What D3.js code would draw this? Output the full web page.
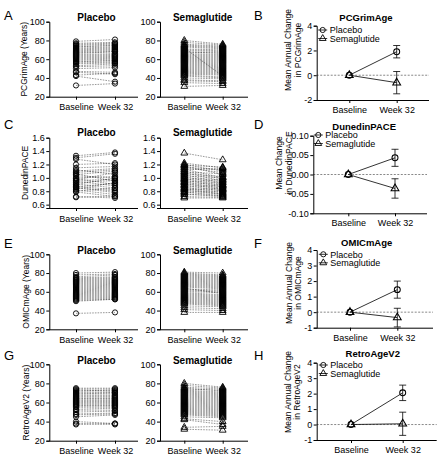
<!DOCTYPE html>
<html>
<head>
<meta charset="utf-8">
<script src="https://cdn.jsdelivr.net/npm/d3@7"></script>
<style>
  body { margin: 0; background: #fff; }
  svg { font-family: "Liberation Sans", Arial, sans-serif; }
</style>
</head>
<body>
<svg id="fig" width="442" height="459"></svg>
<script>
// ---------- data ----------
const timepoints = ["Baseline", "Week 32"];
const groups = ["Placebo", "Semaglutide"];

// paired values per participant: [baseline, week 32]
const pcgrimPlacebo = [[79,81],[77,78],[76,77],[75,76],[74,74],[73,75],[72,73],[71,72],[70,71],[69,70],[68,69],[67,68],[66,68],[65,66],[64,65],[63,64],[62,63],[61,62],[60,61],[59,60],[58,58],[57,59],[56,57],[55,56],[53,55],[52,53],[50,51],[47,46],[46,44],[43,45],[42,36],[32,34]];
const pcgrimSema = [[80,76],[78,75],[76,74],[75,73],[74,72],[73,71],[72,42],[71,70],[70,69],[69,68],[68,66],[67,67],[66,65],[65,64],[64,63],[63,62],[62,61],[61,60],[60,59],[59,58],[58,57],[57,56],[56,55],[55,54],[54,53],[53,52],[52,51],[51,50],[50,49],[49,48],[48,47],[47,46],[46,45],[45,44],[44,43],[43,41],[42,40],[40,39],[38,37],[37,36],[35,34],[31,32]];

const pacePlacebo = [[1.33,1.38],[1.30,1.36],[1.28,1.20],[1.20,1.22],[1.15,1.17],[1.12,1.05],[1.10,1.14],[1.08,1.12],[1.06,0.95],[1.05,1.10],[1.03,1.00],[1.00,1.02],[0.99,0.90],[0.97,1.08],[0.96,0.98],[0.95,0.88],[0.93,0.96],[0.91,0.85],[0.90,1.00],[0.88,0.82],[0.87,0.92],[0.86,0.80],[0.85,0.78],[0.83,0.93],[0.82,0.75],[0.80,0.85],[0.79,0.72],[0.72,0.70],[0.71,0.73]];
const paceSema = [[1.37,1.27],[1.22,1.15],[1.20,1.10],[1.19,1.16],[1.18,1.05],[1.16,1.12],[1.15,1.08],[1.13,1.00],[1.12,1.14],[1.10,0.98],[1.09,1.06],[1.08,0.95],[1.06,1.02],[1.05,0.92],[1.03,1.00],[1.02,0.90],[1.00,0.97],[0.99,0.88],[0.98,0.95],[0.97,0.86],[0.95,0.93],[0.94,0.84],[0.93,0.90],[0.92,0.82],[0.90,0.88],[0.89,0.80],[0.88,0.86],[0.86,0.78],[0.85,0.84],[0.84,0.76],[0.83,0.82],[0.82,0.75],[0.80,0.80],[0.79,0.73],[0.78,0.77],[0.76,0.72],[0.75,0.74],[0.72,0.71],[0.70,0.70]];

const omicPlacebo = [[80,81],[78,79],[76,78],[75,76],[74,75],[73,74],[72,73],[71,72],[70,71],[69,70],[68,69],[67,68],[66,67],[65,66],[64,65],[63,64],[62,63],[61,62],[60,61],[59,60],[58,59],[57,58],[56,57],[55,56],[54,55],[53,54],[52,53],[51,52],[50,52],[37,38]];
const omicSema = [[81,80],[80,78],[79,77],[78,76],[77,75],[76,74],[75,73],[74,72],[73,71],[72,70],[71,69],[70,68],[69,67],[68,66],[67,65],[66,64],[65,63],[64,58],[63,62],[62,61],[61,60],[60,59],[59,57],[58,56],[57,55],[56,54],[55,53],[54,52],[53,51],[52,50],[51,49],[50,48],[49,47],[48,46],[47,45],[45,44],[43,42],[41,40],[38,38]];

const retroPlacebo = [[75,75],[74,74],[73,72],[72,73],[71,71],[70,70],[69,70],[68,68],[67,67],[66,66],[65,64],[64,65],[63,63],[62,62],[61,61],[60,59],[59,60],[58,58],[57,56],[56,57],[55,55],[53,54],[52,52],[50,51],[48,49],[47,48],[45,47],[40,38],[38,37],[37,38]];
const retroSema = [[80,76],[78,75],[76,74],[75,72],[74,73],[73,71],[72,70],[71,69],[70,68],[69,67],[68,66],[67,65],[66,64],[65,63],[64,62],[63,61],[62,60],[61,59],[60,58],[59,57],[58,56],[57,55],[56,54],[55,53],[54,52],[53,51],[52,50],[51,49],[50,48],[49,47],[48,46],[47,45],[45,44],[43,40],[42,37],[34,35],[32,31]];

// mean change and SEM at each timepoint: placebo, semaglutide
const pcgrimMeanChange = [[0, 1.9], [0, -0.6]];
const pcgrimSemChange = [[0, 0.5], [0, 0.9]];
const paceMeanChange = [[0, 0.043], [0, -0.036]];
const paceSemChange = [[0, 0.022], [0, 0.025]];
const omicMeanChange = [[0, 1.45], [0, -0.35]];
const omicSemChange = [[0, 0.55], [0, 0.6]];
const retroMeanChange = [[0, 2.05], [0, 0.05]];
const retroSemChange = [[0, 0.5], [0, 0.75]];

// ticks
const yearTicks = [20, 40, 60, 80, 100];
const paceTicks = [0.6, 0.8, 1.0, 1.2, 1.4, 1.6];
const paceTickLabels = ["0.6", "0.8", "1.0", "1.2", "1.4", "1.6"];
const pcgrimChangeTicks = [-2, 0, 2, 4];
const paceChangeTicks = [-0.1, -0.05, 0, 0.05, 0.1];
const paceChangeLabels = ["-0.10", "-0.05", "0.00", "0.05", "0.10"];
const ageChangeTicks = [-1, 0, 1, 2, 3, 4];

// ---------- layout ----------
const svg = d3.select("#fig");
const panelX = [
    {x0: 49.3, x1: 138, xb: 76, xw: 115, titleX: 96.5},
    {x0: 160, x1: 248, xb: 184.3, xw: 222.7, titleX: 202.7}
];

const rows = [
    {letters: ["A", "B"], letterY: [19.5, 19.5], yLabel: "PCGrimAge (Years)", labelX: 26.5,
     pairs: [pcgrimPlacebo, pcgrimSema], domain: [20, 100], yTop: 21.7, yBottom: 96.7,
     ticks: yearTicks, tickLabels: null, titleY: 20.5,
     change: {title: "PCGrimAge", titleX: 366, titleY: 20.5, x0: 316.7, x1: 429, xb: 349.3, xw: 396.7,
              domain: [-2, 4], yTop: 25.7, yBottom: 100, ticks: pcgrimChangeTicks, tickLabels: null,
              lab: ["Mean Annual Change", "in PCGrimAge"], labX: [291, 301], labY: 50,
              legX: 322.7, legY: 30, means: pcgrimMeanChange, sems: pcgrimSemChange}},
    {letters: ["C", "D"], letterY: [128.5, 128.5], yLabel: "DunedinPACE", labelX: 28,
     pairs: [pacePlacebo, paceSema], domain: [0.55, 1.6], yTop: 137.7, yBottom: 208,
     ticks: paceTicks, tickLabels: paceTickLabels, titleY: 136,
     change: {title: "DunedinPACE", titleX: 364.2, titleY: 129.5, x0: 313.3, x1: 427, xb: 348.3, xw: 395,
              domain: [-0.1, 0.1], yTop: 135.7, yBottom: 213.3, ticks: paceChangeTicks, tickLabels: paceChangeLabels,
              lab: ["Mean Change", "in DunedinPACE"], labX: [281.5, 291.5], labY: 163,
              legX: 318.3, legY: 135, means: paceMeanChange, sems: paceSemChange}},
    {letters: ["E", "F"], letterY: [248, 248], yLabel: "OMICmAge (Years)", labelX: 28.5,
     pairs: [omicPlacebo, omicSema], domain: [20, 100], yTop: 254.3, yBottom: 329.3,
     ticks: yearTicks, tickLabels: null, titleY: 254,
     change: {title: "OMICmAge", titleX: 366.7, titleY: 245.5, x0: 316.7, x1: 433, xb: 350, xw: 397.3,
              domain: [-1, 4], yTop: 250, yBottom: 327.7, ticks: ageChangeTicks, tickLabels: null,
              lab: ["Mean Annual Change", "in OMICmAge"], labX: [291.5, 301], labY: 283,
              legX: 323.3, legY: 254.3, means: omicMeanChange, sems: omicSemChange}},
    {letters: ["G", "H"], letterY: [359.5, 360], yLabel: "RetroAgeV2 (Years)", labelX: 28.5,
     pairs: [retroPlacebo, retroSema], domain: [20, 100], yTop: 364.3, yBottom: 440.7,
     ticks: yearTicks, tickLabels: null, titleY: 364,
     change: {title: "RetroAgeV2", titleX: 372.8, titleY: 356.5, x0: 316.7, x1: 436.7, xb: 351, xw: 402.7,
              domain: [-1, 4], yTop: 362.7, yBottom: 440, ticks: ageChangeTicks, tickLabels: null,
              lab: ["Mean Annual Change", "in RetroAgeV2"], labX: [291, 300], labY: 392,
              legX: 323.3, legY: 365, means: retroMeanChange, sems: retroSemChange}}
];

const circlePath = d3.symbol(d3.symbolCircle, 21)();
const trianglePath = d3.symbol(d3.symbolTriangle, 20)();
const shapes = [circlePath, trianglePath];

function styleAxis(g) {
    g.attr("font-size", null).attr("font-family", null);
    g.selectAll("text").attr("font-size", 9).attr("fill", "#000");
    g.selectAll("line, path").attr("stroke", "#000").attr("stroke-width", 1);
}

function drawYAxis(x0, y, ticks, labels) {
    const ax = d3.axisLeft(y)
        .tickValues(ticks)
        .tickSize(3)
        .tickPadding(1.5)
        .tickFormat((d, i) => labels ? labels[i] : String(d));
    svg.append("g").attr("transform", `translate(${x0},0)`).call(ax).call(styleAxis);
}

function drawXAxis(x, x0, x1, yPos, pad) {
    const ax = d3.axisBottom(x).tickSize(3).tickSizeOuter(0).tickPadding(pad);
    svg.append("g").attr("transform", `translate(0,${yPos})`).call(ax)
        .call(styleAxis)
        .call(g => g.select(".domain").attr("d", `M${x0},0.5H${x1}`));
}

rows.forEach(row => {
    const y = d3.scaleLinear().domain(row.domain).range([row.yBottom, row.yTop]);

    // panel letters
    svg.append("text").attr("x", 4).attr("y", row.letterY[0]).attr("font-size", 13).text(row.letters[0]);
    svg.append("text").attr("x", 254).attr("y", row.letterY[1]).attr("font-size", 13).text(row.letters[1]);

    // y label
    svg.append("text")
        .attr("transform", `translate(${row.labelX},${(row.yTop + row.yBottom) / 2}) rotate(-90)`)
        .attr("text-anchor", "middle")
        .attr("font-size", 8.5)
        .text(row.yLabel);

    // paired panels
    groups.forEach((grp, gi) => {
        const px = panelX[gi];
        const x = d3.scalePoint().domain(timepoints).range([px.xb, px.xw]);
        const data = row.pairs[gi];
        const g = svg.append("g");

        g.selectAll("line.pair").data(data).join("line")
            .attr("class", "pair")
            .attr("x1", x(timepoints[0])).attr("x2", x(timepoints[1]))
            .attr("y1", d => y(d[0])).attr("y2", d => y(d[1]))
            .attr("stroke", "#333")
            .attr("stroke-width", 0.5)
            .attr("stroke-dasharray", "1.6,1.1");

        const pts = data.flatMap(d => [{t: timepoints[0], v: d[0]}, {t: timepoints[1], v: d[1]}]);
        g.selectAll("path.pt").data(pts).join("path")
            .attr("class", "pt")
            .attr("d", shapes[gi])
            .attr("transform", d => `translate(${x(d.t)},${y(d.v)})`)
            .attr("fill", "none")
            .attr("stroke", "#000")
            .attr("stroke-width", 0.9);

        drawYAxis(px.x0, y, row.ticks, row.tickLabels);
        drawXAxis(x, px.x0, px.x1, row.yBottom, 4.4);

        svg.append("text")
            .attr("x", px.titleX).attr("y", row.titleY)
            .attr("text-anchor", "middle")
            .attr("font-size", 10).attr("font-weight", "bold")
            .text(grp);
    });

    // change panel
    const c = row.change;
    const xc = d3.scalePoint().domain(timepoints).range([c.xb, c.xw]);
    const yc = d3.scaleLinear().domain(c.domain).range([c.yBottom, c.yTop]);
    const gc = svg.append("g");

    gc.append("line")
        .attr("x1", c.x0).attr("x2", c.x1)
        .attr("y1", yc(0)).attr("y2", yc(0))
        .attr("stroke", "#555").attr("stroke-width", 0.7)
        .attr("stroke-dasharray", "2,1.5");

    const line = d3.line().x((d, i) => xc(timepoints[i])).y(d => yc(d));

    groups.forEach((grp, gi) => {
        const means = c.means[gi];
        const sems = c.sems[gi];
        gc.append("path")
            .attr("d", line(means))
            .attr("fill", "none")
            .attr("stroke", "#000")
            .attr("stroke-width", 0.8);

        means.forEach((m, i) => {
            const s = sems[i];
            if (s <= 0) return;
            const cx = xc(timepoints[i]);
            gc.append("path")
                .attr("d", `M${cx},${yc(m - s)}V${yc(m + s)}M${cx - 3.5},${yc(m + s)}H${cx + 3.5}M${cx - 3.5},${yc(m - s)}H${cx + 3.5}`)
                .attr("fill", "none")
                .attr("stroke", "#000")
                .attr("stroke-width", 0.8);
        });
    });

    groups.forEach((grp, gi) => {
        const means = c.means[gi];
        gc.selectAll(null).data(means).join("path")
            .attr("d", shapes[gi])
            .attr("transform", (d, i) => `translate(${xc(timepoints[i])},${yc(d)}) scale(1.15)`)
            .attr("fill", gi === 0 ? "none" : "none")
            .attr("stroke", "#000")
            .attr("stroke-width", 0.9);

        // legend
        const ly = c.legY + gi * 8.5;
        gc.append("line")
            .attr("x1", c.legX - 4.5).attr("x2", c.legX + 4.5)
            .attr("y1", ly).attr("y2", ly)
            .attr("stroke", "#000").attr("stroke-width", 0.8);
        gc.append("path")
            .attr("d", shapes[gi])
            .attr("transform", `translate(${c.legX},${ly})`)
            .attr("fill", "none").attr("stroke", "#000").attr("stroke-width", 0.9);
        gc.append("text")
            .attr("x", c.legX + 7).attr("y", ly + 3.2)
            .attr("font-size", 9)
            .text(grp);
    });

    drawYAxis(c.x0, yc, c.ticks, c.tickLabels);
    drawXAxis(xc, c.x0, c.x1, c.yBottom, 3.6);

    svg.append("text")
        .attr("x", c.titleX).attr("y", c.titleY)
        .attr("text-anchor", "middle")
        .attr("font-size", 9.5).attr("font-weight", "bold")
        .text(c.title);

    c.lab.forEach((t, i) => {
        svg.append("text")
            .attr("transform", `translate(${c.labX[i]},${c.labY}) rotate(-90)`)
            .attr("text-anchor", "middle")
            .attr("font-size", 8.5)
            .text(t);
    });
});
</script>
</body>
</html>
